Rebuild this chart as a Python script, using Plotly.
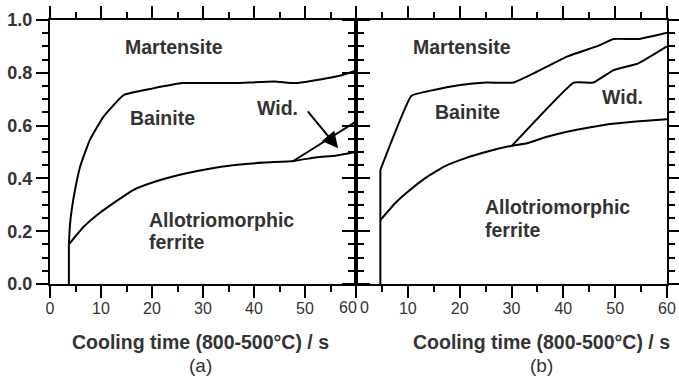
import plotly.graph_objects as go

# ---- data (cooling time in s, fraction) ----
# panel (a)
a_start_x = [3.7, 3.7]
a_start_y = [0.0, 0.15]
a_mb_x = [3.7, 3.9, 4.25, 4.9, 5.9, 7.8, 10.5, 14.5, 20, 26, 36, 44, 48, 53, 57, 60]
a_mb_y = [0.15, 0.22, 0.28, 0.356, 0.444, 0.545, 0.634, 0.716, 0.74, 0.761, 0.761, 0.767, 0.761, 0.775, 0.79, 0.808]
a_fe_x = [3.7, 6.5, 9.8, 16.3, 21, 26.1, 31, 35.9, 42, 47.7, 52.3, 56, 60]
a_fe_y = [0.15, 0.215, 0.27, 0.356, 0.39, 0.417, 0.436, 0.45, 0.46, 0.466, 0.48, 0.486, 0.5]
a_wid_x = [47.7, 60]
a_wid_y = [0.466, 0.615]

# panel (b)
b_start_x = [4.7, 4.7]
b_start_y = [0.0, 0.432]
b_mb_x = [4.7, 10.7, 15, 20.1, 25.2, 30.4, 34.9, 40.7, 46.8, 49.7, 54.5, 60]
b_mb_y = [0.432, 0.713, 0.735, 0.754, 0.763, 0.763, 0.804, 0.861, 0.903, 0.928, 0.928, 0.952]
b_wid_x = [30.1, 42, 45.8, 49.7, 54.5, 60]
b_wid_y = [0.524, 0.763, 0.763, 0.81, 0.836, 0.9]
b_fe_x = [4.7, 7.5, 10.4, 13.5, 16.9, 21, 25.2, 30.1, 33, 36.5, 40.7, 45, 49, 54, 60]
b_fe_y = [0.242, 0.305, 0.356, 0.403, 0.444, 0.476, 0.501, 0.524, 0.533, 0.556, 0.577, 0.593, 0.606, 0.616, 0.624]

x_ticks = [0, 10, 20, 30, 40, 50, 60]
x_text_a = ["0", "10", "20", "30", "40", "50", ""]
x_text_b = ["", "10", "20", "30", "40", "50", "60"]
y_ticks = [0.0, 0.2, 0.4, 0.6, 0.8, 1.0]

W, H = 679, 378
def fx(px):
    return px / W
def fy(py):
    return 1 - py / H

TXT = "#333333"

fig = go.Figure()
for xs, ys in [(a_start_x, a_start_y), (a_mb_x, a_mb_y), (a_fe_x, a_fe_y), (a_wid_x, a_wid_y)]:
    fig.add_trace(go.Scatter(x=xs, y=ys, mode="lines", line=dict(color="black", width=2, shape="spline", smoothing=0.4),
                             xaxis="x", yaxis="y", showlegend=False, hoverinfo="skip"))
for xs, ys in [(b_start_x, b_start_y), (b_mb_x, b_mb_y), (b_wid_x, b_wid_y), (b_fe_x, b_fe_y)]:
    fig.add_trace(go.Scatter(x=xs, y=ys, mode="lines", line=dict(color="black", width=2, shape="spline", smoothing=0.3),
                             xaxis="x2", yaxis="y2", showlegend=False, hoverinfo="skip"))

tickfont_x = dict(family="Liberation Sans", size=16, color=TXT)

def xaxis_cfg(domain, anchor, ticktext):
    return dict(domain=domain, anchor=anchor, range=[0, 60], tickvals=x_ticks, ticktext=ticktext,
                automargin=False,
                ticks="outside", ticklen=12, tickwidth=2, tickcolor="black",
                showline=True, linewidth=2, linecolor="black", mirror="ticks", showgrid=False, zeroline=False,
                minor=dict(dtick=5, tick0=0, ticks="outside", ticklen=6, tickwidth=2, tickcolor="black", showgrid=False),
                tickfont=tickfont_x, ticklabelstandoff=-3)

def yaxis_cfg(anchor, labels):
    return dict(domain=[fy(284), fy(20)], anchor=anchor, range=[0, 1], tickvals=y_ticks,
                automargin=False,
                ticks="outside", mirror="ticks", ticklen=12, tickwidth=2, tickcolor="black",
                showline=True, linewidth=2, linecolor="black", showgrid=False, zeroline=False,
                showticklabels=labels, tickformat=".1f",
                tickfont=dict(family="Liberation Sans", size=18, color=TXT, weight="bold"),
                minor=dict(dtick=0.05, tick0=0, ticks="outside", ticklen=6, tickwidth=2, tickcolor="black", showgrid=False))

fig.update_layout(
    width=W, height=H, margin=dict(l=0, r=0, t=0, b=0, autoexpand=False),
    paper_bgcolor="white", plot_bgcolor="white", showlegend=False,
    xaxis=xaxis_cfg([fx(50), fx(356)], "y", x_text_a),
    xaxis2=xaxis_cfg([fx(356), fx(667)], "y2", x_text_b),
    yaxis=yaxis_cfg("x", True),
    yaxis2=yaxis_cfg("x2", False),
)

# the crowded "60 0" labels at the shared edge, nudged apart
fig.add_annotation(xref="x", yref="paper", x=x_ticks[-1], y=fy(307), text=str(x_ticks[-1]), xshift=-8,
                   showarrow=False, xanchor="center", yanchor="middle", font=tickfont_x)
fig.add_annotation(xref="x2", yref="paper", x=x_ticks[0], y=fy(307), text=str(x_ticks[0]), xshift=8,
                   showarrow=False, xanchor="center", yanchor="middle", font=tickfont_x)

bold = dict(family="Liberation Sans", size=19.5, color=TXT, weight="bold")
labels = [
    ("x", "y", 24.3, 0.898, "Martensite", "center"),
    ("x", "y", 22.0, 0.629, "Bainite", "center"),
    ("x", "y", 44.7, 0.667, "Wid.", "center"),
    ("x", "y", 19.0, 0.242, "Allotriomorphic", "left"),
    ("x", "y", 19.0, 0.159, "ferrite", "left"),
    ("x2", "y2", 20.5, 0.898, "Martensite", "center"),
    ("x2", "y2", 21.6, 0.652, "Bainite", "center"),
    ("x2", "y2", 51.5, 0.708, "Wid.", "center"),
    ("x2", "y2", 24.5, 0.292, "Allotriomorphic", "left"),
    ("x2", "y2", 24.5, 0.205, "ferrite", "left"),
]
for xr, yr, x, y, t, anc in labels:
    fig.add_annotation(xref=xr, yref=yr, x=x, y=y, text=t, showarrow=False, xanchor=anc, yanchor="middle",
                       font=bold)

# arrow pointing to the Widmanstatten region in (a)
fig.add_annotation(xref="x", yref="y", axref="x", ayref="y", x=56.5, y=0.514, ax=50.3, ay=0.66,
                   text="", showarrow=True, arrowhead=2, arrowsize=1.6, arrowwidth=2, arrowcolor="black")

title_font = dict(family="Liberation Sans", size=19.5, color=TXT, weight="bold")
sub_font = dict(family="Liberation Sans", size=19, color=TXT)
for cx, sub in [(200, "(a)"), (541, "(b)")]:
    fig.add_annotation(xref="paper", yref="paper", x=fx(cx), y=fy(342), text="Cooling time (800-500°C) / s",
                       showarrow=False, xanchor="center", yanchor="middle", font=title_font)
    fig.add_annotation(xref="paper", yref="paper", x=fx(cx), y=fy(365), text=sub,
                       showarrow=False, xanchor="center", yanchor="middle", font=sub_font)

fig.write_html("out.html", config={"displayModeBar": False},
               post_script="document.body.style.margin='0';document.body.style.overflow='hidden';")
